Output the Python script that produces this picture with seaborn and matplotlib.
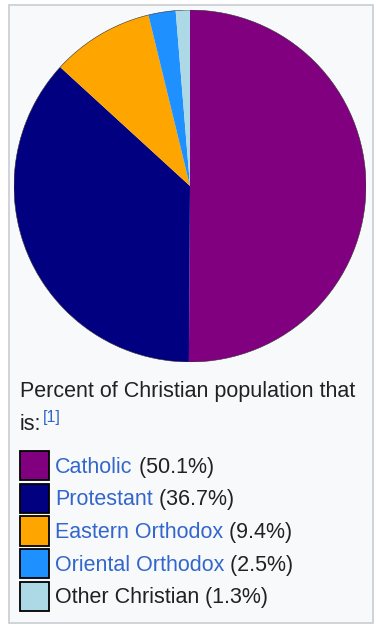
import matplotlib
matplotlib.use("Agg")
import matplotlib.pyplot as plt
import seaborn as sns
from matplotlib.patches import Patch, Rectangle

# data
names = ["Catholic", "Protestant", "Eastern Orthodox", "Oriental Orthodox", "Other Christian"]
shares = [50.1, 36.7, 9.4, 2.5, 1.3]
colors = ["#800080", "#000080", "#ffa500", "#1e90ff", "#add8e6"]
is_link = [True, True, True, True, False]

sns.set_theme(style="white")
plt.rcParams['font.family'] = ['Liberation Sans', 'DejaVu Sans']

W, H = 379, 629
fig = plt.figure(figsize=(W / 100, H / 100), dpi=100)
fig.patch.set_facecolor("white")

# infobox frame
fig.patches.append(Rectangle((8.5 / W, 1 - 622.5 / H), 364.5 / W, 618 / H,
                             transform=fig.transFigure, facecolor="#f8f9fa",
                             edgecolor="#c8ccd1", linewidth=1.2, zorder=-5))

# pie
ax = fig.add_axes([14 / W, 1 - 362 / H, 352 / W, 352 / H])
ax.set_zorder(2)
ax.pie(shares, colors=colors, startangle=90, counterclock=False,
       wedgeprops=dict(linewidth=0), radius=1.0)
ax.add_patch(plt.Circle((0, 0), 1.0, fill=False, edgecolor="#333333", linewidth=0.4))
ax.set_xlim(-1.0, 1.0)
ax.set_ylim(-1.0, 1.0)
ax.set_aspect("equal")
ax.axis("off")

fs = 15.5
fig.text(20 / W, 1 - 392 / H, "Percent of Christian population that",
         fontsize=fs, color="#202122", va="center", ha="left", zorder=3)
t_is = fig.text(20 / W, 1 - 424 / H, "is:", fontsize=fs, color="#202122",
                va="center", ha="left", zorder=3)

# legend, blue link names
handles = [Patch(facecolor=c, edgecolor="black", linewidth=1.3) for c in colors]
leg = fig.legend(handles, names, loc="upper left",
                 bbox_to_anchor=(20 / W, 1 - 451 / H), frameon=False,
                 fontsize=fs, handlelength=1.33, handleheight=1.7,
                 handletextpad=0.3, labelspacing=0.17, borderpad=0,
                 borderaxespad=0)
leg.set_zorder(3)
for txt, link in zip(leg.get_texts(), is_link):
    txt.set_color("#3366cc" if link else "#202122")

fig.canvas.draw()
r = fig.canvas.get_renderer()
inv = fig.transFigure.inverted()

bb = t_is.get_window_extent(r)
x0, y0 = inv.transform((bb.x1 + 1, bb.y1 - 4))
fig.text(x0, y0, "[1]", fontsize=11.5, color="#3366cc", ha="left", va="center", zorder=3)

for txt, v in zip(leg.get_texts(), shares):
    bb = txt.get_window_extent(r)
    x1, _ = inv.transform((bb.x1, bb.y0))
    _, yc = inv.transform((0, (bb.y0 + bb.y1) / 2))
    fig.text(x1, yc, f" ({v}%)", fontsize=fs, color="#202122", ha="left", va="center", zorder=3)

fig.savefig("out.png", dpi=100, facecolor="white")
